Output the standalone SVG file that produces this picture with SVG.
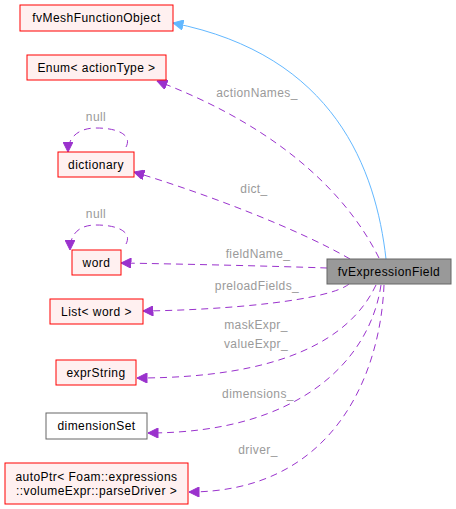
<svg xmlns="http://www.w3.org/2000/svg" width="456" height="509" viewBox="0 0 456 509">
<style>
.n rect{fill:#fff0f0;stroke:#ff0000;stroke-width:1}
.n text{font-family:"Liberation Sans",Arial,sans-serif;font-size:12px;letter-spacing:0.45px;fill:#000;text-anchor:middle}
.g rect{fill:#ffffff;stroke:#666666}
.cur rect{fill:#999999;stroke:#666666}
.e{fill:none;stroke:#9a32cd;stroke-width:1;stroke-dasharray:7,5}
.b{fill:none;stroke:#63b8ff;stroke-width:1}
.l{font-family:"Liberation Sans",Arial,sans-serif;font-size:12px;letter-spacing:0.4px;fill:#9a9a9a;text-anchor:middle}
</style>
<defs>
<marker id="ap" viewBox="0 0 10 10" refX="10" refY="5" markerWidth="11" markerHeight="10" markerUnits="userSpaceOnUse" orient="auto"><path d="M0,0 L10,5 L0,10 Z" fill="#9a32cd" stroke="#9a32cd"/></marker>
<marker id="ab" viewBox="0 0 10 10" refX="10" refY="5" markerWidth="11" markerHeight="10" markerUnits="userSpaceOnUse" orient="auto"><path d="M0,0 L10,5 L0,10 Z" fill="#63b8ff" stroke="#63b8ff"/></marker>
</defs>
<rect width="456" height="509" fill="#ffffff"/>
<g id="connectors">
<path class="b" d="M386,259 C376,170 335,55 173,23" marker-end="url(#ab)"/>
<path class="e" d="M379,258 C340,180 260,120 157,81" marker-end="url(#ap)"/>
<path class="e" d="M350,259 C300,230 210,195 134,172" marker-end="url(#ap)"/>
<path class="e" d="M327,268 C270,266 180,264 121,263" marker-end="url(#ap)"/>
<path class="e" d="M349,284 C330,300 230,310 143,311" marker-end="url(#ap)"/>
<path class="e" d="M376,285 C350,340 280,378 137,378" marker-end="url(#ap)"/>
<path class="e" d="M381,285 C370,360 300,433 148,433" marker-end="url(#ap)"/>
<path class="e" d="M384,285 C380,380 330,492 189,492" marker-end="url(#ap)"/>
<path class="e" d="M126,147 C132,136 120,128 96,128 C80,128 68,136 68,152" marker-end="url(#ap)"/>
<path class="e" d="M126,244 C132,233 120,225 96,225 C80,225 70,233 70,250" marker-end="url(#ap)"/>
<text class="l" x="257" y="97">actionNames_</text>
<text class="l" x="254" y="193">dict_</text>
<text class="l" x="258" y="258">fieldName_</text>
<text class="l" x="257" y="290">preloadFields_</text>
<text class="l" x="256" y="329">maskExpr_</text>
<text class="l" x="256" y="348">valueExpr_</text>
<text class="l" x="258" y="398">dimensions_</text>
<text class="l" x="258" y="454">driver_</text>
<text class="l" x="96" y="121">null</text>
<text class="l" x="96" y="218">null</text>
</g>
<g id="fvMeshFunctionObject" class="n"><rect x="20" y="5" width="153" height="26"/><text x="96.5" y="22">fvMeshFunctionObject</text></g>
<g id="Enum" class="n"><rect x="27" y="55" width="139" height="25"/><text x="96.5" y="72">Enum&lt; actionType &gt;</text></g>
<g id="dictionary" class="n"><rect x="58" y="152" width="76" height="25"/><text x="96" y="169">dictionary</text></g>
<g id="word" class="n"><rect x="72" y="250" width="49" height="25"/><text x="96.5" y="267">word</text></g>
<g id="ListWord" class="n"><rect x="50" y="299" width="93" height="25"/><text x="96.5" y="316">List&lt; word &gt;</text></g>
<g id="exprString" class="n"><rect x="56" y="360" width="80" height="25"/><text x="96" y="377">exprString</text></g>
<g id="dimensionSet" class="n g"><rect x="46" y="413" width="101" height="26"/><text x="96.5" y="430">dimensionSet</text></g>
<g id="autoPtr" class="n"><rect x="5" y="463" width="183" height="41"/><text x="96.5" y="481">autoPtr&lt; Foam::expressions</text><text x="96.5" y="495">::volumeExpr::parseDriver &gt;</text></g>
<g id="fvExpressionField" class="n cur"><rect x="327" y="259" width="124" height="25"/><text x="389" y="276">fvExpressionField</text></g>
</svg>
